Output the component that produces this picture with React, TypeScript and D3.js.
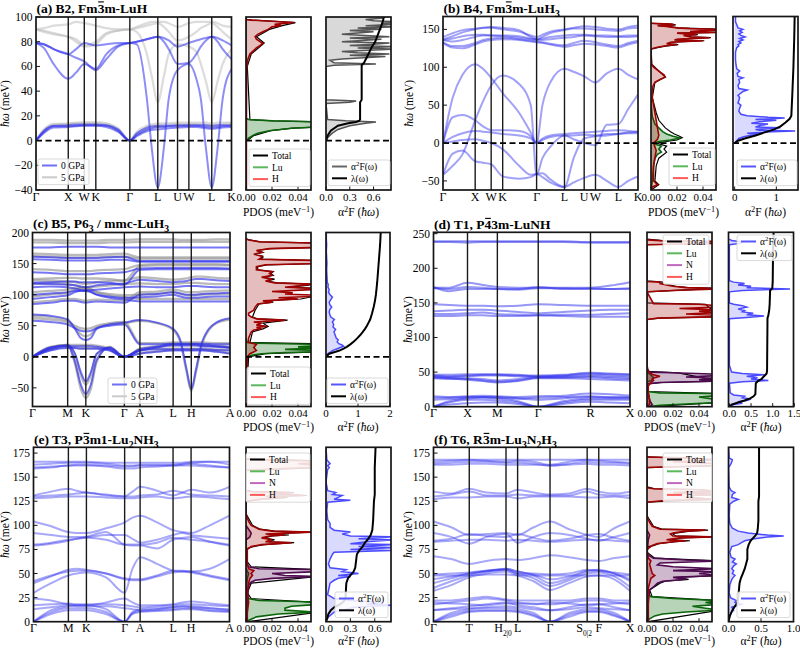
import React from 'react';
import * as d3 from 'd3';

type P = [number, number];
type Seg = [string, string];

// ---------- (a) B2, Fm-3m LuH ----------
const aLabels = ['Γ', 'X', 'W', 'K', 'Γ', 'L', 'U', 'W', 'L', 'K'];
const aTicks = [0, 0.165, 0.247, 0.306, 0.48, 0.623, 0.724, 0.782, 0.899, 1];
const aK = [0, 0.04, 0.09, 0.165, 0.205, 0.247, 0.306, 0.36, 0.42, 0.48, 0.515, 0.567, 0.592, 0.623, 0.654, 0.679, 0.724, 0.782, 0.82, 0.843, 0.869, 0.899, 0.929, 0.955, 1];
const aBand0 = [
  [0, 6, 10.5, 11, 11.5, 12, 12, 11, 7, 0, 3.5, 7.5, 8.5, 9, 9.5, 10, 10.5, 11, 11, 10.5, 10, 9.5, 10, 10.5, 11],
  [0, 7, 11.5, 11.5, 12, 12.5, 12.5, 12, 8, 0, 4.5, 9, 10, 11, 11, 11.5, 11.5, 12, 12, 11.5, 11, 10.5, 11, 11.5, 12],
  [0, 8, 12, 12.5, 13, 13, 13, 12.5, 9, 0, 6, 10.5, 11.5, 12, 12, 12, 12.5, 12.5, 12.5, 12.5, 12.5, 12, 12.5, 12.5, 12.5],
  [79, 78, 74, 70, 74, 79, 77, 78, 79, 79, 80, 82, 83, 84, 83, 81, 76, 79, 81, 82, 83, 84, 83, 81, 77],
  [79, 78, 74, 70, 67, 64, 57, 66, 76, 79, 80, 82, 83, 84, 80, 74, 62, 63, 70, 76, 81, 84, 80, 74, 66],
  [79, 75, 62, 50, 55, 62, 58, 70, 77, 79, 78, 34, -6, -38, -6, 34, 57, 62, 50, 34, -6, -38, -6, 34, 58],
];
const aBand5 = [
  [0, 7, 12, 12.5, 13, 13.5, 13.5, 12.5, 8, 0, 4, 9, 10.5, 11, 11.5, 12, 12.5, 13, 13, 12.5, 12, 11.5, 12, 12.5, 13],
  [0, 8, 13, 13.5, 14, 14, 14, 13.5, 9, 0, 5, 10.5, 12, 12.5, 13, 13, 13.5, 13.5, 13.5, 13.5, 13, 12.5, 13, 13.5, 14],
  [0, 9, 13.5, 14, 14.5, 15, 15, 14, 10, 0, 7, 12, 13, 14, 14, 14, 14.5, 14.5, 14.5, 14.5, 14.5, 14, 14.5, 14.5, 14.5],
  [90, 91, 93, 94, 96, 95, 93, 91, 90, 90, 92, 95, 96, 96, 96, 95, 92, 95, 96, 96, 96, 96, 95, 93, 92],
  [90, 89, 87, 84, 82, 77, 80, 87, 89, 90, 91, 93, 94, 95, 92, 88, 81, 84, 88, 91, 93, 95, 92, 88, 82],
  [90, 88, 86, 84, 80, 76, 78, 86, 89, 90, 88, 70, 52, 31, 52, 70, 78, 76, 72, 62, 48, 31, 48, 62, 74],
];
const aDosTot: P[] = [[0, 0.001], [4, 0.006], [8, 0.019], [10, 0.036], [11, 0.056], [15, 0.061], [16, 0.021], [17, 0.003], [60, 0.001], [70, 0.004], [79, 0.014], [84, 0.008], [90, 0.018], [93, 0.028], [95.5, 0.038], [97.5, 0.005], [98, 0]];
const aDosLu: P[] = [[0, 0.0005], [2, 0.002], [4, 0.005], [6, 0.009], [8, 0.018], [10, 0.035], [11, 0.055], [13, 0.06], [15, 0.06], [16, 0.02], [17, 0.002], [18, 0], [100, 0]];
const aDosH: P[] = [[-40, 0.0003], [0, 0.0003], [40, 0.0004], [58, 0.0005], [62, 0.001], [66, 0.0015], [70, 0.003], [73, 0.006], [75, 0.008], [77, 0.011], [79, 0.013], [80, 0.011], [82, 0.008], [84, 0.007], [86, 0.009], [88, 0.013], [90, 0.017], [92, 0.02], [93, 0.027], [94, 0.022], [95.5, 0.037], [96.5, 0.02], [97.5, 0.004], [98, 0], [100, 0]];
const aA2F: P[] = [[0, 0], [3, 0.03], [6, 0.08], [9, 0.15], [12, 0.3], [14, 0.5], [15, 0.63], [16, 0.25], [17, 0.02], [30, 0], [31, 0.3], [32, 0.38], [33, 0], [60, 0], [61, 0.1], [62, 0.63], [63, 0.1], [65, 0.05], [66, 0.2], [68, 0.75], [69, 0.3], [70, 0.8], [71, 0.4], [72, 0.2], [74, 0.85], [75, 0.4], [76, 0.9], [77, 0.3], [78, 0.6], [79, 0.8], [80, 0.2], [82, 0.7], [83, 0.3], [84, 0.8], [85, 0.5], [86, 0.2], [88, 0.6], [89, 0.3], [90, 0.7], [91, 0.4], [92, 0.85], [93, 0.5], [94, 0.85], [95, 0.7], [96, 0.9], [97, 0.6], [98, 0.5], [99, 0.7], [100, 0.75]];
const aLam: P[] = [[0, 0], [4, 0.02], [8, 0.06], [12, 0.15], [14, 0.28], [15, 0.38], [16, 0.42], [17, 0.43], [31, 0.43], [33, 0.45], [61, 0.45], [63, 0.48], [68, 0.52], [72, 0.55], [76, 0.58], [80, 0.62], [85, 0.65], [90, 0.68], [95, 0.71], [100, 0.73]];

// ---------- (b) B4, Fm-3m LuH3 ----------
const bLabels = aLabels;
const bTicks = aTicks;
const bK = [0, 0.05, 0.1, 0.165, 0.205, 0.247, 0.306, 0.39, 0.45, 0.48, 0.51, 0.55, 0.623, 0.67, 0.724, 0.782, 0.84, 0.899, 0.95, 1];
const bBand0 = [
  [140, 145, 149, 151, 152, 152, 150, 147, 142, 140, 143, 147, 150, 152, 154, 153, 151, 150, 153, 155],
  [137, 141, 146, 150, 152, 153, 152, 149, 140, 137, 140, 145, 149, 151, 151, 150, 149, 148, 151, 152],
  [136, 138, 141, 143, 143, 142, 142, 141, 138, 137, 138, 140, 142, 143, 143, 142, 142, 141, 142, 142],
  [136, 134, 136, 140, 142, 142, 141, 139, 137, 136, 136, 137, 139, 140, 142, 141, 140, 140, 140, 141],
  [133, 128, 128, 132, 136, 138, 139, 137, 135, 134, 133, 131, 129, 132, 135, 133, 130, 128, 132, 135],
  [132, 126, 125, 130, 134, 136, 137, 136, 134, 133, 132, 130, 127, 129, 131, 130, 128, 126, 130, 133],
  [0, 60, 90, 104, 98, 86, 66, 40, 14, 0, 50, 80, 98, 94, 88, 80, 92, 98, 90, 84],
  [0, 34, 37, 30, 22, 17, 17, 16, 9, 0, 4, 8, 10, 10, 11, 10, 12, 12, 13, 13],
  [-42, -14, -10, -24, -26, -28, -44, -47, -45, -41, -40, -48, -58, -52, -46, -42, -50, -58, -50, -44],
  [0, 8, 13, 16, 15, 14, 12, 10, 6, 0, 6, 10, 12, 13, 14, 15, 16, 17, 16, 15],
  [-42, -30, -15, 30, 55, 76, 89, 78, 50, -42, -20, -5, 10, 5, 0, -3, 24, 25, 45, 64],
  [0, 2, 4, 5, 3, 0, -8, -30, -42, -41, -45, -52, -58, -20, 6, 9, 10, 12, 14, 15],
];
const bDosTot: P[] = [[-62, 0], [-55, 0.006], [-50, 0.003], [-30, 0.004], [-20, 0.006], [-12, 0.012], [-8, 0.01], [-4, 0.012], [0, 0.004], [4, 0.02], [7, 0.024], [9, 0.022], [12, 0.018], [15, 0.015], [20, 0.011], [30, 0.006], [40, 0.004], [60, 0.001], [80, 0.003], [87, 0.011], [95, 0.006], [104, 0.0005], [124, 0], [126, 0.005], [128, 0.011], [130, 0.021], [131, 0.013], [133, 0.016], [135, 0.041], [136, 0.019], [137, 0.021], [139, 0.046], [140, 0.031], [142, 0.026], [143, 0.036], [145, 0.021], [146, 0.051], [150, 0.056], [152, 0.021], [154, 0.013], [155, 0.006], [156, 0.019], [157, 0.016], [158, 0]];
const bDosLu: P[] = [[-62, 0], [-50, 0.001], [-30, 0.002], [-20, 0.003], [-15, 0.005], [-12, 0.008], [-8, 0.006], [-4, 0.008], [-2, 0.004], [0, 0.002], [2, 0.006], [4, 0.015], [6, 0.021], [7, 0.022], [9, 0.017], [12, 0.012], [15, 0.009], [20, 0.006], [25, 0.003], [30, 0.002], [35, 0.001], [45, 0.0005], [60, 0]];
const bDosH: P[] = [[-62, 0], [-58, 0.001], [-55, 0.005], [-50, 0.002], [-40, 0.002], [-30, 0.002], [-20, 0.003], [-10, 0.004], [-5, 0.003], [0, 0.002], [5, 0.005], [10, 0.006], [20, 0.005], [30, 0.004], [40, 0.003], [50, 0.002], [60, 0.001], [70, 0.001], [75, 0.0015], [80, 0.003], [84, 0.007], [87, 0.011], [90, 0.01], [95, 0.006], [100, 0.002], [104, 0.0005], [124, 0], [126, 0.004], [128, 0.01], [130, 0.02], [131, 0.012], [133, 0.015], [135, 0.04], [136, 0.018], [137, 0.02], [139, 0.045], [140, 0.03], [142, 0.025], [143, 0.035], [145, 0.02], [146, 0.05], [147, 0.03], [148, 0.038], [149, 0.05], [150, 0.055], [151, 0.03], [152, 0.02], [154, 0.012], [155, 0.005], [156, 0.018], [157, 0.015], [158, 0]];
const bA2F: P[] = [[0, 0], [3, 0.05], [6, 0.1], [8, 0.2], [10, 0.35], [12, 0.6], [13, 0.3], [15, 0.9], [16, 1.45], [17, 0.6], [18, 0.5], [20, 1.1], [21, 0.5], [23, 0.6], [25, 0.8], [26, 0.4], [28, 0.6], [30, 1.0], [31, 0.5], [33, 1.2], [34, 0.8], [36, 0.3], [38, 0.15], [42, 0.1], [46, 0.12], [50, 0.15], [53, 0.08], [56, 0.1], [60, 0.12], [63, 0.08], [66, 0.15], [68, 0.2], [70, 0.3], [72, 0.1], [76, 0.08], [80, 0.12], [84, 0.1], [86, 0.2], [88, 0.08], [92, 0.06], [95, 0.12], [98, 0.05], [104, 0.03], [110, 0.02], [120, 0.02], [126, 0.05], [128, 0.1], [130, 0.08], [132, 0.15], [134, 0.1], [136, 0.2], [138, 0.12], [140, 0.25], [142, 0.15], [144, 0.1], [146, 0.18], [148, 0.12], [150, 0.2], [152, 0.08], [156, 0.05], [160, 0.02], [167, 0.02]];
const bLam: P[] = [[0, 0], [3, 0.08], [6, 0.24], [10, 0.5], [14, 0.72], [18, 0.95], [22, 1.1], [27, 1.22], [32, 1.32], [36, 1.36], [60, 1.38], [100, 1.41], [140, 1.43], [167, 1.44]];

// ---------- (c) B5, P6_3/mmc LuH3 ----------
const cLabels = ['Γ', 'M', 'K', 'Γ', 'A', 'L', 'H', 'A'];
const cTicks = [0, 0.178, 0.27, 0.465, 0.544, 0.712, 0.804, 1];
const cK = [0, 0.09, 0.178, 0.215, 0.245, 0.27, 0.295, 0.325, 0.39, 0.465, 0.544, 0.63, 0.712, 0.75, 0.78, 0.804, 0.828, 0.86, 0.93, 1];
const cBand0 = [
  [176, 176, 177, 177, 177, 177, 177, 177, 176, 176, 176, 176, 176, 176, 176, 176, 176, 176, 176, 176],
  [161, 160, 159, 159, 159, 159, 159, 159, 160, 161, 154, 154, 154, 154, 154, 154, 154, 154, 154, 154],
  [157, 156, 155, 155, 155, 155, 155, 155, 156, 156, 153, 153, 153, 153, 153, 153, 153, 153, 153, 153],
  [119, 120, 121, 121, 120, 120, 120, 120, 119, 116, 140, 141, 141, 141, 141, 141, 141, 141, 141, 141],
  [136, 135, 133, 133, 133, 133, 133, 134, 135, 136, 142, 143, 143, 143, 143, 143, 143, 143, 143, 142],
  [118, 117, 116, 115, 113, 112, 113, 115, 117, 118, 124, 122, 120, 121, 122, 124, 125, 125, 123, 122],
  [112, 113, 112, 110, 107, 106, 107, 108, 110, 112, 113, 112, 112, 113, 114, 114, 114, 113, 112, 112],
  [100, 102, 104, 106, 106, 106, 104, 100, 97, 95, 96, 97, 100, 97, 95, 95, 95, 96, 97, 97],
  [93, 96, 99, 104, 107, 108, 105, 100, 95, 92, 89, 89, 89, 89, 89, 89, 89, 89, 89, 89],
  [85, 87, 90, 90, 88, 87, 88, 89, 88, 87, 100, 101, 104, 102, 100, 100, 100, 101, 102, 103],
  [68, 66, 60, 45, 30, 27, 30, 45, 52, 55, 59, 55, 45, 25, -20, -52, -20, 25, 55, 62],
  [58, 56, 52, 46, 42, 41, 42, 46, 50, 52, 20, 20, 21, 21, 21, 21, 21, 21, 20, 20],
  [0, 12, 17, 17, 17, 17, 17, 16, 12, 0, 10, 15, 18, 18, 18, 18, 18, 17, 16, 14],
  [0, 10, 14, 14, 13, 13, 13, 13, 10, 0, 10, 12, 12, 12, 12, 12, 12, 12, 11, 10],
  [0, 14, 18, 5, -25, -40, -25, 5, 14, 0, 5, 8, 10, 10, 10, 10, 10, 10, 8, 5],
  [0, 15, 18, -8, -45, -60, -45, -5, 15, 0, 12, 16, 20, 20, 20, 20, 20, 19, 17, 15],
];
const cBand5 = [
  [188, 188, 187, 187, 187, 187, 187, 187, 188, 188, 189, 189, 189, 188, 188, 188, 188, 188, 189, 189],
  [184, 184, 183, 183, 183, 183, 183, 183, 184, 184, 185, 185, 185, 185, 185, 185, 185, 185, 185, 185],
  [166, 165, 164, 164, 164, 164, 164, 164, 165, 166, 160, 160, 160, 160, 160, 160, 160, 160, 160, 160],
  [162, 161, 160, 160, 160, 160, 160, 160, 161, 161, 158, 158, 158, 158, 158, 158, 158, 158, 158, 158],
  [125, 126, 127, 127, 126, 126, 126, 126, 125, 122, 146, 147, 147, 147, 147, 147, 147, 147, 147, 147],
  [141, 140, 138, 138, 138, 138, 138, 139, 140, 141, 148, 149, 149, 149, 149, 149, 149, 149, 149, 148],
  [123, 122, 121, 120, 118, 117, 118, 120, 122, 123, 128, 126, 124, 125, 126, 128, 129, 129, 127, 126],
  [117, 118, 117, 115, 112, 111, 112, 113, 115, 117, 118, 117, 117, 118, 119, 119, 119, 118, 117, 117],
  [104, 106, 108, 110, 110, 110, 108, 104, 101, 99, 100, 101, 104, 101, 99, 99, 99, 100, 101, 101],
  [97, 100, 103, 108, 111, 112, 109, 104, 99, 96, 93, 93, 93, 93, 93, 93, 93, 93, 93, 93],
  [88, 90, 93, 93, 91, 90, 91, 92, 91, 90, 104, 105, 108, 106, 104, 104, 104, 105, 106, 107],
  [66, 64, 58, 47, 36, 33, 36, 47, 52, 54, 58, 54, 43, 22, -24, -55, -24, 22, 54, 60],
  [62, 60, 56, 50, 46, 45, 46, 50, 54, 56, 22, 22, 23, 23, 23, 23, 23, 23, 22, 22],
  [0, 13, 19, 19, 19, 19, 19, 18, 13, 0, 11, 16, 19, 19, 19, 19, 19, 18, 17, 15],
  [0, 11, 15, 15, 14, 14, 14, 14, 11, 0, 11, 13, 13, 13, 13, 13, 13, 13, 12, 11],
  [0, 15, 19, 4, -30, -45, -30, 4, 15, 0, 6, 9, 11, 11, 11, 11, 11, 11, 9, 6],
  [0, 16, 19, -11, -52, -66, -52, -8, 16, 0, 13, 17, 21, 21, 21, 21, 21, 20, 18, 16],
];
const cDosTot: P[] = [[-80, 0], [0, 0.002], [5, 0.015], [8, 0.056], [21, 0.056], [23, 0.003], [40, 0.005], [45, 0.013], [49, 0.017], [54, 0.013], [59, 0.032], [61, 0.009], [64, 0.005], [75, 0.007], [85, 0.01], [88, 0.021], [90, 0.014], [93, 0.042], [97, 0.052], [99, 0.056], [110, 0.056], [112, 0.032], [115, 0.047], [117, 0.052], [119, 0.024], [122, 0.016], [125, 0.022], [128, 0.013], [131, 0.021], [134, 0.019], [137, 0.021], [140, 0.009], [145, 0.009], [148, 0.016], [150, 0.056], [155, 0.056], [157, 0.011], [160, 0.013], [162, 0.013], [165, 0.007], [168, 0.013], [171, 0.009], [174, 0.019], [176, 0.056], [183, 0.056], [185, 0.011], [188, 0.003], [190, 0]];
const cDosLu: P[] = [[-80, 0], [-10, 0.0005], [0, 0.001], [3, 0.005], [5, 0.012], [7, 0.03], [8, 0.055], [10, 0.055], [12, 0.03], [14, 0.055], [16, 0.04], [18, 0.055], [20, 0.055], [21, 0.03], [22, 0.008], [23, 0.001], [30, 0]];
const cDosH: P[] = [[-80, 0], [-70, 0.001], [-50, 0.001], [-20, 0.001], [0, 0.001], [5, 0.003], [10, 0.008], [15, 0.006], [20, 0.008], [23, 0.002], [30, 0.002], [35, 0.003], [40, 0.004], [43, 0.006], [45, 0.012], [47, 0.008], [49, 0.016], [51, 0.008], [54, 0.012], [56, 0.006], [59, 0.03], [61, 0.008], [64, 0.004], [67, 0.002], [70, 0.002], [75, 0.006], [80, 0.007], [85, 0.009], [88, 0.02], [90, 0.013], [93, 0.04], [95, 0.025], [97, 0.05], [99, 0.055], [101, 0.03], [103, 0.036], [105, 0.02], [108, 0.05], [110, 0.055], [112, 0.03], [115, 0.045], [117, 0.05], [119, 0.022], [122, 0.015], [125, 0.02], [128, 0.012], [131, 0.02], [134, 0.018], [137, 0.02], [140, 0.008], [145, 0.008], [148, 0.015], [150, 0.055], [153, 0.055], [155, 0.055], [157, 0.01], [160, 0.012], [162, 0.012], [165, 0.006], [168, 0.012], [171, 0.008], [174, 0.018], [176, 0.055], [179, 0.055], [181, 0.055], [183, 0.055], [185, 0.01], [188, 0.002], [190, 0]];
const cA2F: P[] = [[0, 0], [5, 0.05], [8, 0.15], [10, 0.2], [13, 0.35], [15, 0.45], [17, 0.55], [19, 0.5], [21, 0.4], [24, 0.35], [27, 0.38], [30, 0.32], [33, 0.3], [36, 0.28], [40, 0.25], [44, 0.3], [48, 0.22], [52, 0.24], [56, 0.2], [60, 0.26], [64, 0.15], [68, 0.12], [72, 0.1], [76, 0.12], [80, 0.18], [84, 0.12], [88, 0.1], [92, 0.15], [96, 0.2], [100, 0.12], [104, 0.08], [108, 0.1], [112, 0.06], [116, 0.07], [120, 0.04], [130, 0.03], [140, 0.02], [150, 0.03], [160, 0.02], [170, 0.01], [180, 0.02], [190, 0.01], [200, 0.01]];
const cLam: P[] = [[0, 0], [5, 0.1], [8, 0.3], [10, 0.42], [13, 0.55], [16, 0.65], [20, 0.76], [25, 0.88], [30, 0.98], [35, 1.07], [40, 1.15], [45, 1.22], [50, 1.28], [55, 1.33], [60, 1.38], [70, 1.44], [80, 1.49], [90, 1.53], [100, 1.56], [120, 1.6], [140, 1.63], [160, 1.66], [180, 1.69], [200, 1.71]];

// ---------- (d) T1, P-43m LuNH ----------
const dLabels = ['Γ', 'X', 'M', 'Γ', 'R', 'X'];
const dTicks = [0, 0.173, 0.325, 0.533, 0.799, 1];
const dK = [0, 0.08, 0.173, 0.25, 0.325, 0.43, 0.533, 0.66, 0.799, 0.9, 1];
const dBand0 = [
  [238, 238, 237, 238, 238, 238, 238, 238, 237, 237, 237],
  [239, 239, 239, 239, 239, 239, 239, 239, 238, 238, 238],
  [173, 167, 170, 170, 170, 170, 173, 170, 171, 170, 171],
  [172, 172, 179, 176, 173, 172, 172, 172, 172, 175, 180],
  [171, 170, 173, 172, 170, 169, 171, 171, 170, 170, 170],
  [148, 147, 146, 146, 145, 146, 148, 147, 146, 146, 146],
  [138, 139, 140, 140, 139, 137, 135, 137, 139, 140, 140],
  [134, 134, 135, 136, 134, 133, 132, 133, 133, 134, 135],
  [131, 131, 132, 132, 131, 131, 132, 131, 130, 130, 130],
  [46, 46, 47, 47, 47, 46, 45, 46, 49, 48, 47],
  [45, 44, 45, 46, 46, 45, 44, 45, 48, 47, 46],
  [44, 43, 44, 45, 45, 44, 43, 44, 46, 45, 44],
  [42, 42, 41, 40, 38, 40, 43, 43, 44, 43, 42],
  [41, 40, 40, 38, 36, 38, 42, 42, 43, 41, 40],
  [43, 41, 39, 37, 35, 37, 41, 41, 40, 39, 38],
  [0, 8, 12, 13, 12, 8, 0, 8, 12, 12, 12],
  [0, 6, 10, 10, 9, 6, 0, 6, 10, 10, 10],
  [0, 3, 5, 6, 6, 4, 0, 4, 7, 6, 5],
  [15, 14, 15, 16, 15, 14, 15, 16, 19, 18, 16],
  [13, 13, 14, 14, 13, 12, 13, 14, 15, 14, 14],
  [10, 11, 13, 14, 14, 12, 10, 12, 14, 13, 13],
];
const dDosTot: P[] = [[0, 0.003], [6, 0.056], [19, 0.056], [22, 0.001], [33, 0], [35, 0.012], [37, 0.056], [49, 0.024], [51, 0], [126, 0], [128, 0.01], [130, 0.056], [148, 0.045], [150, 0], [166, 0], [168, 0.022], [171, 0.056], [172, 0.032], [174, 0.022], [176, 0.017], [178, 0.012], [180, 0.012], [182, 0], [234, 0], [236, 0.056], [240, 0.012], [242, 0]];
const dDosLu: P[] = [[0, 0], [2, 0.01], [4, 0.03], [6, 0.055], [10, 0.055], [14, 0.04], [16, 0.055], [19, 0.055], [20, 0.01], [22, 0], [36, 0], [38, 0.004], [42, 0.005], [46, 0.003], [50, 0]];
const dDosN: P[] = [[0, 0.002], [3, 0.004], [6, 0.003], [10, 0.002], [20, 0.001], [33, 0], [35, 0.01], [37, 0.055], [39, 0.04], [41, 0.055], [43, 0.03], [45, 0.055], [47, 0.055], [49, 0.02], [50, 0.002], [55, 0]];
const dDosH: P[] = [[0, 0.001], [5, 0.002], [10, 0.002], [20, 0.001], [30, 0.001], [35, 0.003], [38, 0.005], [40, 0.004], [42, 0.006], [44, 0.01], [46, 0.005], [48, 0.003], [50, 0.001], [60, 0], [126, 0], [128, 0.008], [130, 0.055], [132, 0.055], [134, 0.03], [136, 0.055], [138, 0.04], [140, 0.055], [142, 0.025], [144, 0.055], [146, 0.055], [148, 0.04], [149, 0.005], [166, 0], [168, 0.02], [170, 0.055], [171, 0.055], [172, 0.03], [174, 0.02], [176, 0.015], [178, 0.01], [180, 0.01], [181, 0], [234, 0], [236, 0.055], [239, 0.055], [240, 0.01], [241, 0]];
const dA2F: P[] = [[0, 0], [3, 0.1], [5, 0.3], [7, 0.2], [9, 0.4], [11, 0.5], [13, 0.3], [15, 0.35], [17, 0.1], [20, 0.02], [34, 0], [36, 0.3], [38, 0.9], [40, 0.5], [42, 0.65], [44, 0.4], [46, 0.8], [48, 0.3], [50, 0.05], [60, 0], [127, 0], [129, 0.4], [131, 0.8], [133, 0.4], [135, 0.55], [137, 0.3], [139, 0.35], [141, 0.2], [144, 0.4], [146, 0.3], [148, 0.1], [150, 0], [166, 0], [168, 0.3], [170, 1.4], [172, 0.4], [174, 0.5], [176, 0.2], [178, 0.35], [180, 0.1], [182, 0], [234, 0], [236, 0.25], [238, 0.3], [240, 0.05], [242, 0]];
const dLam: P[] = [[0, 0], [3, 0.05], [6, 0.2], [9, 0.35], [12, 0.48], [15, 0.56], [18, 0.6], [34, 0.61], [37, 0.66], [40, 0.74], [44, 0.8], [48, 0.86], [52, 0.87], [128, 0.88], [132, 0.9], [140, 0.92], [148, 0.93], [168, 0.94], [171, 0.99], [180, 1.0], [236, 1.01], [240, 1.02], [252, 1.02]];

// ---------- (e) T3, P-3m1 Lu2NH3 ----------
const eLabels = cLabels;
const eTicks = cTicks;
const eK = [0, 0.09, 0.178, 0.22, 0.27, 0.37, 0.465, 0.505, 0.544, 0.63, 0.712, 0.76, 0.804, 0.9, 1];
const eBand0 = [
  [166, 166, 166, 166, 166, 165, 165, 165, 165, 165, 165, 165, 166, 166, 166],
  [163, 164, 165, 165, 165, 164, 162, 162, 163, 163, 163, 164, 165, 166, 163],
  [160, 161, 162, 163, 163, 162, 161, 161, 162, 162, 162, 163, 164, 162, 160],
  [159, 160, 162, 162, 162, 161, 159, 159, 160, 161, 162, 162, 162, 161, 160],
  [131, 135, 138, 136, 134, 132, 130, 135, 140, 136, 131, 134, 137, 134, 140],
  [130, 131, 132, 133, 134, 131, 130, 130, 131, 132, 136, 134, 132, 131, 130],
  [128, 129, 130, 130, 130, 129, 128, 128, 129, 130, 128, 129, 130, 129, 127],
  [104, 99, 93, 92, 92, 97, 103, 108, 110, 103, 95, 93, 92, 100, 110],
  [92, 90, 88, 88, 88, 90, 90, 86, 82, 85, 90, 92, 90, 88, 86],
  [79, 81, 84, 86, 88, 93, 80, 79, 79, 76, 85, 87, 88, 83, 79],
  [80, 82, 85, 86, 87, 85, 80, 80, 80, 82, 87, 86, 85, 83, 80],
  [42, 48, 52, 53, 53, 50, 45, 44, 44, 48, 53, 53, 52, 48, 44],
  [40, 47, 54, 55, 54, 50, 44, 43, 43, 47, 51, 52, 51, 47, 43],
  [30, 40, 48, 50, 51, 46, 30, 55, 67, 60, 53, 52, 52, 55, 65],
  [0, 8, 12, 12, 12, 8, 0, 8, 10, 11, 12, 13, 13, 11, 10],
  [0, 10, 14, 14, 14, 10, 0, 9, 11, 12, 13, 14, 14, 12, 11],
  [0, 12, 16, 17, 17, 13, 0, 10, 13, 14, 15, 16, 16, 14, 13],
  [24, 22, 18, 17, 17, 20, 24, 20, 17, 17, 18, 20, 21, 19, 17],
  [17, 18, 19, 18, 18, 18, 17, 16, 15, 16, 17, 18, 18, 17, 16],
  [13, 15, 17, 16, 16, 16, 14, 13, 12, 13, 15, 16, 15, 14, 12],
];
const eDosTot: P[] = [[0, 0.001], [10, 0.056], [20, 0.056], [24, 0.004], [30, 0.001], [40, 0.004], [47, 0.056], [54, 0.056], [57, 0.004], [62, 0.001], [76, 0.001], [78, 0.006], [80, 0.014], [82, 0.037], [83, 0.017], [85, 0.022], [87, 0.014], [89, 0.02], [90, 0.033], [91, 0.017], [93, 0.052], [94, 0.022], [96, 0.011], [100, 0.005], [112, 0], [125, 0], [127, 0.012], [129, 0.032], [130, 0.017], [131, 0.047], [133, 0.022], [134, 0.037], [135, 0.006], [136, 0], [157, 0], [160, 0.056], [167, 0.056], [169, 0]];
const eDosLu: P[] = [[0, 0], [2, 0.003], [5, 0.008], [8, 0.025], [10, 0.055], [12, 0.03], [14, 0.03], [16, 0.035], [18, 0.055], [20, 0.055], [21, 0.04], [22, 0.01], [24, 0.002], [30, 0], [45, 0.001], [50, 0.002], [55, 0]];
const eDosN: P[] = [[0, 0.001], [20, 0.001], [38, 0.002], [41, 0.004], [43, 0.007], [45, 0.02], [47, 0.055], [48, 0.03], [50, 0.02], [52, 0.055], [54, 0.055], [55, 0.01], [57, 0.002], [62, 0], [85, 0], [88, 0.003], [92, 0.004], [96, 0.002], [100, 0]];
const eDosH: P[] = [[0, 0.0005], [10, 0.001], [20, 0.002], [30, 0.001], [40, 0.002], [45, 0.003], [48, 0.005], [50, 0.004], [53, 0.006], [55, 0.002], [60, 0.001], [75, 0.001], [78, 0.004], [80, 0.012], [82, 0.035], [83, 0.015], [85, 0.02], [87, 0.012], [89, 0.018], [90, 0.03], [91, 0.015], [93, 0.05], [94, 0.02], [96, 0.01], [100, 0.004], [104, 0.002], [108, 0.001], [112, 0], [125, 0], [127, 0.01], [129, 0.03], [130, 0.015], [131, 0.045], [133, 0.02], [134, 0.035], [135, 0.005], [136, 0], [157, 0], [159, 0.03], [160, 0.055], [162, 0.055], [164, 0.04], [165, 0.055], [167, 0.055], [168, 0.01], [169, 0]];
const eA2F: P[] = [[0, 0], [5, 0.03], [10, 0.1], [12, 0.2], [15, 0.35], [17, 0.8], [18, 0.5], [20, 0.7], [22, 0.3], [24, 0.1], [28, 0.02], [40, 0.05], [43, 0.1], [45, 0.15], [47, 0.3], [48, 0.15], [50, 0.4], [52, 0.2], [54, 0.25], [56, 0.05], [60, 0.03], [65, 0.05], [70, 0.08], [72, 0.1], [74, 0.8], [75, 0.3], [77, 0.85], [78, 0.4], [80, 0.85], [81, 0.3], [83, 0.5], [85, 0.85], [86, 0.4], [88, 0.85], [89, 0.3], [91, 0.2], [93, 0.3], [95, 0.1], [98, 0.05], [102, 0.05], [106, 0.02], [115, 0.01], [124, 0.02], [126, 0.3], [127, 0.1], [129, 0.15], [131, 0.2], [132, 0.08], [134, 0.12], [136, 0.02], [145, 0], [158, 0.02], [160, 0.04], [162, 0.02], [164, 0.05], [166, 0.03], [168, 0.01], [181, 0]];
const eLam: P[] = [[0, 0], [8, 0.03], [12, 0.06], [15, 0.1], [18, 0.17], [21, 0.22], [25, 0.24], [40, 0.25], [45, 0.27], [48, 0.3], [52, 0.34], [56, 0.36], [70, 0.38], [74, 0.41], [78, 0.45], [82, 0.48], [86, 0.52], [90, 0.55], [95, 0.57], [105, 0.58], [125, 0.59], [132, 0.6], [160, 0.6], [181, 0.61]];

// ---------- (f) T6, R-3m Lu3N2H3 ----------
const fLabels = ['Γ', 'T', 'H_2|0', 'L', 'Γ', 'S_0|2', 'F', 'X'];
const fTicks = [0, 0.182, 0.369, 0.428, 0.593, 0.782, 0.841, 1];
const fK = [0, 0.09, 0.182, 0.27, 0.369, 0.428, 0.51, 0.593, 0.69, 0.782, 0.841, 0.92, 1];
const fBand0 = [
  [168, 168, 168, 168, 168, 168, 168, 168, 168, 168, 168, 168, 168],
  [166, 167, 168, 167, 166, 167, 166, 163, 166, 168, 167, 166, 165],
  [164, 165, 166, 166, 165, 165, 164, 162, 164, 166, 165, 165, 164],
  [163, 163, 164, 164, 163, 163, 163, 162, 163, 164, 163, 163, 162],
  [135, 133, 138, 134, 133, 137, 134, 132, 133, 138, 135, 133, 135],
  [130, 132, 135, 131, 131, 132, 131, 131, 131, 135, 132, 131, 131],
  [127, 129, 129, 130, 130, 128, 130, 130, 130, 129, 129, 130, 128],
  [104, 98, 90, 91, 92, 90, 98, 104, 96, 90, 88, 97, 104],
  [92, 88, 81, 88, 91, 82, 88, 92, 90, 86, 84, 88, 92],
  [84, 86, 91, 89, 88, 91, 87, 84, 86, 90, 91, 87, 84],
  [83, 84, 85, 85, 84, 85, 84, 83, 84, 85, 85, 84, 83],
  [68, 65, 60, 63, 65, 64, 66, 69, 67, 64, 63, 66, 68],
  [49, 50, 51, 53, 54, 50, 50, 49, 50, 54, 53, 51, 49],
  [48, 48, 48, 49, 49, 48, 48, 48, 48, 48, 48, 48, 48],
  [40, 45, 50, 52, 55, 52, 48, 40, 45, 52, 53, 50, 42],
  [35, 42, 48, 52, 54, 50, 45, 37, 43, 50, 51, 47, 36],
  [44, 47, 50, 53, 55, 52, 49, 44, 47, 53, 54, 50, 44],
  [32, 38, 46, 50, 52, 48, 42, 33, 40, 47, 48, 44, 32],
  [0, 9, 13, 14, 14, 13, 9, 0, 9, 13, 13, 9, 0],
  [0, 7, 11, 12, 12, 11, 7, 0, 7, 11, 11, 7, 0],
  [0, 5, 10, 11, 11, 10, 6, 0, 5, 10, 10, 6, 0],
  [12, 14, 16, 18, 20, 17, 15, 12, 15, 18, 18, 15, 12],
  [12, 13, 14, 15, 16, 15, 13, 12, 13, 15, 14, 13, 12],
  [18, 20, 22, 24, 22, 20, 19, 18, 20, 22, 22, 20, 18],
  [22, 22, 24, 26, 23, 22, 22, 22, 22, 24, 24, 22, 22],
  [20, 19, 18, 17, 19, 19, 18, 20, 19, 17, 18, 19, 20],
];
const fDosTot: P[] = [[0, 0.001], [12, 0.056], [22, 0.056], [26, 0.004], [33, 0.002], [40, 0.01], [42, 0.014], [44, 0.032], [46, 0.022], [48, 0.056], [63, 0.056], [66, 0.006], [72, 0], [78, 0.001], [79, 0.005], [81, 0.009], [83, 0.022], [84, 0.033], [85, 0.017], [87, 0.027], [88, 0.052], [89, 0.022], [91, 0.02], [92, 0.022], [94, 0.033], [95, 0.047], [96, 0.012], [99, 0.005], [110, 0], [124, 0], [127, 0.052], [129, 0.032], [131, 0.037], [132, 0.056], [134, 0.022], [135, 0.056], [137, 0.042], [138, 0.006], [140, 0], [160, 0], [162, 0.056], [168, 0.056], [171, 0]];
const fDosLu: P[] = [[0, 0], [3, 0.002], [6, 0.006], [8, 0.012], [10, 0.03], [12, 0.055], [14, 0.045], [16, 0.035], [18, 0.055], [20, 0.045], [22, 0.055], [24, 0.02], [26, 0.003], [30, 0]];
const fDosN: P[] = [[0, 0.001], [20, 0.001], [33, 0.002], [36, 0.005], [40, 0.008], [42, 0.012], [44, 0.03], [46, 0.02], [48, 0.055], [50, 0.04], [52, 0.055], [53, 0.02], [55, 0.055], [57, 0.02], [59, 0.008], [61, 0.01], [63, 0.055], [64, 0.03], [66, 0.005], [70, 0], [85, 0.001], [90, 0.002], [95, 0]];
const fDosH: P[] = [[0, 0.0005], [20, 0.001], [35, 0.001], [40, 0.002], [45, 0.003], [48, 0.006], [50, 0.004], [55, 0.003], [60, 0.002], [63, 0.003], [66, 0.001], [75, 0], [79, 0.004], [81, 0.008], [83, 0.02], [84, 0.03], [85, 0.015], [87, 0.025], [88, 0.05], [89, 0.02], [91, 0.018], [92, 0.02], [94, 0.03], [95, 0.045], [96, 0.01], [99, 0.004], [103, 0.002], [106, 0.001], [110, 0], [124, 0], [126, 0.015], [127, 0.05], [129, 0.03], [131, 0.035], [132, 0.055], [134, 0.02], [135, 0.055], [137, 0.04], [138, 0.005], [139, 0], [160, 0], [162, 0.055], [164, 0.055], [166, 0.02], [168, 0.055], [170, 0.03], [171, 0]];
const fA2F: P[] = [[0, 0], [6, 0.02], [10, 0.05], [12, 0.08], [15, 0.05], [18, 0.2], [20, 0.1], [22, 0.12], [25, 0.03], [30, 0.01], [38, 0.02], [42, 0.04], [45, 0.06], [48, 0.1], [50, 0.06], [53, 0.08], [55, 0.05], [58, 0.08], [60, 0.12], [62, 0.06], [65, 0.1], [67, 0.04], [72, 0.02], [78, 0.05], [80, 0.15], [82, 0.2], [84, 0.25], [86, 0.4], [88, 0.6], [89, 0.85], [90, 0.6], [92, 0.3], [94, 0.15], [97, 0.06], [102, 0.02], [110, 0.01], [122, 0.02], [125, 0.08], [127, 0.15], [129, 0.05], [132, 0.06], [134, 0.1], [136, 0.04], [140, 0.01], [160, 0], [164, 0.04], [168, 0.06], [170, 0.01], [181, 0]];
const fLam: P[] = [[0, 0], [6, 0.02], [12, 0.06], [16, 0.1], [20, 0.14], [25, 0.15], [40, 0.17], [45, 0.19], [50, 0.22], [55, 0.25], [60, 0.27], [65, 0.29], [75, 0.29], [80, 0.31], [84, 0.34], [87, 0.38], [89, 0.41], [92, 0.44], [96, 0.45], [105, 0.46], [125, 0.46], [130, 0.47], [168, 0.47], [181, 0.47]];

// ---------- styling / layout ----------
const FONT = '"Liberation Serif", "DejaVu Serif", serif';
const BLUE = '#2f2fee';
const GREY = '#b9b9b9';
const SP = {
  Tot: { line: '#000', fill: 'none', leg: '#000', name: 'Total' },
  Lu: { line: '#0b650b', fill: 'rgba(0,100,0,0.28)', leg: '#5cb85c', name: 'Lu' },
  N: { line: '#4e0a4e', fill: 'rgba(80,0,80,0.28)', leg: '#c068c0', name: 'N' },
  H: { line: '#a00000', fill: 'rgba(160,0,0,0.26)', leg: '#ff5a5a', name: 'H' },
};
const A2F_LBL: Seg[] = [['α', ''], ['2', 'u'], ['F(ω)', '']];
const LAM_LBL: Seg[] = [['λ(ω)', '']];

let measureCtx: CanvasRenderingContext2D | null = null;
function textWidth(s: string, font: string) {
  if (!measureCtx) measureCtx = document.createElement('canvas').getContext('2d');
  if (!measureCtx) return s.length * 7;
  measureCtx.font = font;
  return measureCtx.measureText(s).width;
}

function Rich({ segs, size, sub = 0.72 }: { segs: Seg[]; size: number; sub?: number }) {
  let shift = 0;
  return (
    <>
      {segs.map(([t, s], i) => {
        const target = s === 's' ? size * 0.3 : s === 'u' ? -size * 0.38 : 0;
        const dy = target - shift;
        shift = target;
        const small = s === 's' || s === 'u';
        return (
          <tspan key={i} dy={dy} fontSize={small ? size * sub : size}
            fontStyle={s === 'i' ? 'italic' : undefined}>{t}</tspan>
        );
      })}
    </>
  );
}

// bold title; segments flagged 'o' get an overbar drawn from measured widths
function Title({ x, y, segs }: { x: number; y: number; segs: Seg[] }) {
  const size = 13.5;
  const font = `bold ${size}px "Liberation Serif"`;
  const bars: [number, number][] = [];
  let acc = 0;
  for (const [t, s] of segs) {
    if (s === 's') break;
    const w = textWidth(t, font);
    if (s === 'o') bars.push([x + acc + 0.5, x + acc + w - 0.5]);
    acc += w;
  }
  return (
    <g>
      <text x={x} y={y} fontSize={size} fontWeight="bold"><Rich segs={segs} size={size} /></text>
      {bars.map((b, i) => (
        <line key={i} x1={b[0]} x2={b[1]} y1={y - 10.6} y2={y - 10.6} stroke="#000" strokeWidth={1.1} />
      ))}
    </g>
  );
}

const kSegs = (l: string): Seg[] => {
  const [m, sub] = l.split('_');
  return sub ? [[m, ''], [sub, 's']] : [[m, '']];
};

function Legend({ x, y, w, rows }: { x: number; y: number; w: number; rows: { c: string; l: Seg[]; wd?: number }[] }) {
  const step = 11.8;
  return (
    <g>
      <rect x={x} y={y} width={w} height={rows.length * step + 2} rx={2} fill="rgba(255,255,255,0.85)" stroke="#cfcfcf" strokeWidth={0.8} />
      {rows.map((r, i) => (
        <g key={i}>
          <line x1={x + 4} x2={x + 19} y1={y + 6.5 + i * step} y2={y + 6.5 + i * step} stroke={r.c} strokeWidth={r.wd ?? 2} />
          <text x={x + 23} y={y + 9.8 + i * step} fontSize={9.5} fontFamily={FONT}><Rich segs={r.l} size={9.5} /></text>
        </g>
      ))}
    </g>
  );
}

interface Box { x0: number; x1: number; y0: number; y1: number }
interface Cfg {
  id: string; title: Seg[]; titleY: number; ylabX: number; box: Box;
  pdosX: [number, number]; a2fX: [number, number]; yDom: [number, number]; yTicks: number[];
  labels: string[]; ticks: number[]; k: number[];
  bands: { data: number[][]; color: string; op: number; w: number }[];
  dos: { sp: keyof typeof SP; d: P[] }[];
  a2f: P[]; lam: P[]; a2fDom: [number, number]; a2fTicks: number[]; a2fFmt: string; a2fColor: string; a2fFill: string;
  zero: boolean; xlabY: number;
  bandLeg?: { x: number; y: number; w: number };
  dosLeg: { x: number; y: number; w: number };
  a2fLeg: { x: number; y: number; w: number };
}

function Panel({ p }: { p: Cfg }) {
  const { box } = p;
  const y = d3.scaleLinear().domain(p.yDom).range([box.y1, box.y0]);
  const xk = d3.scaleLinear().domain([0, 1]).range([box.x0, box.x1]);
  const xd = d3.scaleLinear().domain([0, 0.05]).range(p.pdosX);
  const xa = d3.scaleLinear().domain(p.a2fDom).range(p.a2fX);
  const bl = d3.line<number>().x((_, i) => xk(p.k[i])).y((v) => y(v)).curve(d3.curveMonotoneX);
  const dArea = d3.area<P>().y((d) => y(d[0])).x0(xd(0)).x1((d) => xd(d[1]));
  const dLine = d3.line<P>().x((d) => xd(d[1])).y((d) => y(d[0]));
  const aArea = d3.area<P>().y((d) => y(d[0])).x0(xa(0)).x1((d) => xa(d[1]));
  const aLine = d3.line<P>().x((d) => xa(d[1])).y((d) => y(d[0]));
  const h = box.y1 - box.y0;
  const boxes: [number, number][] = [[box.x0, box.x1], p.pdosX, p.a2fX];
  const labY = box.y1 + 10.5;
  const fmtA = d3.format(p.a2fFmt);
  const dosSp = p.dos.map((s) => s.sp);
  return (
    <g fontFamily={FONT}>
      <defs>
        {boxes.map((b, i) => (
          <clipPath id={`cl-${p.id}-${i}`} key={i}><rect x={b[0]} y={box.y0} width={b[1] - b[0]} height={h} /></clipPath>
        ))}
      </defs>
      {/* bands */}
      <g clipPath={`url(#cl-${p.id}-0)`}>
        {p.bands.map((b, j) => b.data.map((d, i) => (
          <path key={`${j}-${i}`} d={bl(d) ?? ''} fill="none" stroke={b.color} strokeOpacity={b.op} strokeWidth={b.w} />
        )))}
      </g>
      {p.ticks.slice(1, -1).map((t, i) => (
        <line key={i} x1={xk(t)} x2={xk(t)} y1={box.y0} y2={box.y1} stroke="#1a1a1a" strokeWidth={1.4} />
      ))}
      {/* PDOS */}
      <g clipPath={`url(#cl-${p.id}-1)`}>
        {p.dos.map((s, i) => (
          <g key={i}>
            {SP[s.sp].fill !== 'none' && <path d={dArea(s.d) ?? ''} fill={SP[s.sp].fill} />}
            <path d={dLine(s.d) ?? ''} fill="none" stroke={SP[s.sp].line} strokeWidth={s.sp === 'Tot' ? 1.2 : 1.6} />
          </g>
        ))}
      </g>
      {/* a2F & lambda */}
      <g clipPath={`url(#cl-${p.id}-2)`}>
        <path d={aArea(p.a2f) ?? ''} fill={p.a2fFill} />
        <path d={aLine(p.a2f) ?? ''} fill="none" stroke={p.a2fColor} strokeWidth={1.5} />
        <path d={aLine(p.lam) ?? ''} fill="none" stroke="#000" strokeWidth={2} />
      </g>
      {p.zero && boxes.map((b, i) => (
        <line key={i} x1={b[0]} x2={b[1]} y1={y(0)} y2={y(0)} stroke="#000" strokeWidth={1.8} strokeDasharray="6,3.5" />
      ))}
      {boxes.map((b, i) => (
        <rect key={i} x={b[0]} y={box.y0} width={b[1] - b[0]} height={h} fill="none" stroke="#151515" strokeWidth={1.7} />
      ))}
      {/* y axis */}
      {p.yTicks.map((t) => (
        <g key={t}>
          <line x1={box.x0} x2={box.x0 + 4} y1={y(t)} y2={y(t)} stroke="#151515" strokeWidth={1} />
          <text x={box.x0 - 3.5} y={y(t) + 4} textAnchor="end" fontSize={11.5}>{d3.format('d')(t)}</text>
        </g>
      ))}
      <text transform={`translate(${p.ylabX},${(box.y0 + box.y1) / 2}) rotate(-90)`} textAnchor="middle" fontSize={11.5}>
        <tspan fontStyle="italic">ħω</tspan> (meV)
      </text>
      {/* k labels (subscripted ones nudged left, as in the crowded original) */}
      {p.labels.map((l, i) => {
        const hasSub = l.includes('_');
        return (
          <text key={i} x={xk(p.ticks[i]) - (hasSub ? 3 : 0)} y={labY} textAnchor="middle" fontSize={12}>
            <Rich segs={kSegs(l)} size={12} sub={0.62} />
          </text>
        );
      })}
      {/* PDOS ticks */}
      {[0, 0.02, 0.04].map((t) => (
        <g key={t}>
          <line x1={xd(t)} x2={xd(t)} y1={box.y1} y2={box.y1 - 3.5} stroke="#151515" strokeWidth={1} />
          <text x={xd(t)} y={labY} textAnchor="middle" fontSize={11}>{d3.format('.2f')(t)}</text>
        </g>
      ))}
      {p.a2fTicks.map((t) => (
        <g key={t}>
          <line x1={xa(t)} x2={xa(t)} y1={box.y1} y2={box.y1 - 3.5} stroke="#151515" strokeWidth={1} />
          <text x={xa(t)} y={labY} textAnchor="middle" fontSize={11}>{fmtA(t)}</text>
        </g>
      ))}
      <text x={(p.pdosX[0] + p.pdosX[1]) / 2} y={p.xlabY} textAnchor="middle" fontSize={11.5}>
        <Rich segs={[['PDOS (meV', ''], ['−1', 'u'], [')', '']]} size={11.5} />
      </text>
      <text x={(p.a2fX[0] + p.a2fX[1]) / 2} y={p.xlabY} textAnchor="middle" fontSize={11.5}>
        <Rich segs={[['α', ''], ['2', 'u'], ['F (', ''], ['ħω', 'i'], [')', '']]} size={11.5} />
      </text>
      <Title x={box.x0 + 0.5} y={p.titleY} segs={p.title} />
      {/* legends */}
      {p.bandLeg && (
        <Legend {...p.bandLeg} rows={[{ c: '#6f6ff2', l: [['0 GPa', '']] }, { c: '#cacaca', l: [['5 GPa', '']] }]} />
      )}
      <Legend {...p.dosLeg} rows={dosSp.map((s) => ({ c: SP[s].leg, l: [[SP[s].name, '']] as Seg[] }))} />
      <Legend {...p.a2fLeg} rows={[{ c: p.a2fColor === '#555' ? '#666' : '#5656ff', l: A2F_LBL }, { c: '#000', l: LAM_LBL }]} />
    </g>
  );
}

const blueFill = 'rgba(70,70,255,0.2)';
const t0to175 = [0, 25, 50, 75, 100, 125, 150, 175];

const panels: Cfg[] = [
  {
    id: 'a', title: [['(a) B2, Fm', ''], ['3', 'o'], ['m-LuH', '']], titleY: 12.5, ylabX: 9,
    box: { x0: 36, x1: 231.5, y0: 17, y1: 190 }, pdosX: [246, 311], a2fX: [326, 391],
    yDom: [-40, 100], yTicks: [-40, -20, 0, 20, 40, 60, 80, 100], labels: aLabels, ticks: aTicks, k: aK,
    bands: [{ data: aBand5, color: GREY, op: 0.5, w: 2.2 }, { data: aBand0, color: BLUE, op: 0.55, w: 2 }],
    dos: [{ sp: 'Tot', d: aDosTot }, { sp: 'Lu', d: aDosLu }, { sp: 'H', d: aDosH }],
    a2f: aA2F, lam: aLam, a2fDom: [0, 0.82], a2fTicks: [0, 0.3, 0.6], a2fFmt: '.1f', a2fColor: '#555', a2fFill: 'rgba(0,0,0,0.15)',
    zero: true, xlabY: 216,
    bandLeg: { x: 38, y: 159, w: 51 }, dosLeg: { x: 249, y: 149, w: 61 }, a2fLeg: { x: 328, y: 160, w: 62 },
  },
  {
    id: 'b', title: [['(b) B4, Fm', ''], ['3', 'o'], ['m-LuH', ''], ['3', 's']], titleY: 12.5, ylabX: 413,
    box: { x0: 443, x1: 638, y0: 16.5, y1: 190 }, pdosX: [651, 716], a2fX: [733, 798],
    yDom: [-62, 167], yTicks: [-50, 0, 50, 100, 150], labels: bLabels, ticks: bTicks, k: bK,
    bands: [{ data: bBand0, color: BLUE, op: 0.45, w: 2 }],
    dos: [{ sp: 'Tot', d: bDosTot }, { sp: 'Lu', d: bDosLu }, { sp: 'H', d: bDosH }],
    a2f: bA2F, lam: bLam, a2fDom: [-0.04, 1.52], a2fTicks: [0, 1], a2fFmt: 'd', a2fColor: '#4a4aff', a2fFill: blueFill,
    zero: true, xlabY: 216,
    dosLeg: { x: 669, y: 148, w: 46 }, a2fLeg: { x: 737, y: 160, w: 60 },
  },
  {
    id: 'c', title: [['(c) B5, P6', ''], ['3', 's'], [' / mmc-LuH', ''], ['3', 's']], titleY: 228, ylabX: 9,
    box: { x0: 32.5, x1: 230, y0: 232.5, y1: 406.5 }, pdosX: [246, 311], a2fX: [326, 390],
    yDom: [-80, 200], yTicks: [-50, 0, 50, 100, 150, 200], labels: cLabels, ticks: cTicks, k: cK,
    bands: [{ data: cBand5, color: '#8c8c8c', op: 0.6, w: 2.3 }, { data: cBand0, color: BLUE, op: 0.65, w: 2 }],
    dos: [{ sp: 'Tot', d: cDosTot }, { sp: 'Lu', d: cDosLu }, { sp: 'H', d: cDosH }],
    a2f: cA2F, lam: cLam, a2fDom: [0, 2], a2fTicks: [0, 1, 2], a2fFmt: 'd', a2fColor: '#4a4aff', a2fFill: blueFill,
    zero: true, xlabY: 431,
    bandLeg: { x: 108, y: 378, w: 49 }, dosLeg: { x: 247, y: 367, w: 63 }, a2fLeg: { x: 327, y: 378, w: 61 },
  },
  {
    id: 'd', title: [['(d) T1, P', ''], ['4', 'o'], ['3m-LuNH', '']], titleY: 229, ylabX: 412,
    box: { x0: 433.5, x1: 630, y0: 232.3, y1: 406.7 }, pdosX: [647, 712], a2fX: [728.5, 793.5],
    yDom: [0, 252], yTicks: [0, 50, 100, 150, 200, 250], labels: dLabels, ticks: dTicks, k: dK,
    bands: [{ data: dBand0, color: BLUE, op: 0.5, w: 2 }],
    dos: [{ sp: 'Tot', d: dDosTot }, { sp: 'Lu', d: dDosLu }, { sp: 'N', d: dDosN }, { sp: 'H', d: dDosH }],
    a2f: dA2F, lam: dLam, a2fDom: [-0.02, 1.48], a2fTicks: [0, 0.5, 1, 1.5], a2fFmt: '.1f', a2fColor: '#4a4aff', a2fFill: blueFill,
    zero: false, xlabY: 431,
    dosLeg: { x: 663, y: 235, w: 46 }, a2fLeg: { x: 737, y: 235, w: 55 },
  },
  {
    id: 'e', title: [['(e) T3, P', ''], ['3', 'o'], ['m1-Lu', ''], ['2', 's'], ['NH', ''], ['3', 's']], titleY: 444, ylabX: 9,
    box: { x0: 33.5, x1: 229.5, y0: 447.3, y1: 621.7 }, pdosX: [246, 311], a2fX: [326, 391],
    yDom: [0, 181], yTicks: t0to175, labels: eLabels, ticks: eTicks, k: eK,
    bands: [{ data: eBand0, color: BLUE, op: 0.42, w: 2 }],
    dos: [{ sp: 'Tot', d: eDosTot }, { sp: 'Lu', d: eDosLu }, { sp: 'N', d: eDosN }, { sp: 'H', d: eDosH }],
    a2f: eA2F, lam: eLam, a2fDom: [0, 0.8], a2fTicks: [0, 0.3, 0.6], a2fFmt: '.1f', a2fColor: '#4a4aff', a2fFill: blueFill,
    zero: false, xlabY: 645,
    dosLeg: { x: 246, y: 453, w: 64 }, a2fLeg: { x: 335, y: 592, w: 53 },
  },
  {
    id: 'f', title: [['(f) T6, R', ''], ['3', 'o'], ['m-Lu', ''], ['3', 's'], ['N', ''], ['2', 's'], ['H', ''], ['3', 's']], titleY: 444, ylabX: 412,
    box: { x0: 433.5, x1: 630, y0: 447.3, y1: 621.7 }, pdosX: [647, 712], a2fX: [728.5, 793.5],
    yDom: [0, 181], yTicks: t0to175, labels: fLabels, ticks: fTicks, k: fK,
    bands: [{ data: fBand0, color: BLUE, op: 0.42, w: 2 }],
    dos: [{ sp: 'Tot', d: fDosTot }, { sp: 'Lu', d: fDosLu }, { sp: 'N', d: fDosN }, { sp: 'H', d: fDosH }],
    a2f: fA2F, lam: fLam, a2fDom: [0, 1], a2fTicks: [0, 0.5, 1], a2fFmt: '.1f', a2fColor: '#4a4aff', a2fFill: blueFill,
    zero: false, xlabY: 645,
    dosLeg: { x: 663, y: 453, w: 49 }, a2fLeg: { x: 737, y: 592, w: 53 },
  },
];

export default function App() {
  return (
    <svg width={800} height={648} style={{ position: 'absolute', left: 0, top: 0, background: '#fff' }}>
      {panels.map((p) => <Panel key={p.id} p={p} />)}
    </svg>
  );
}
